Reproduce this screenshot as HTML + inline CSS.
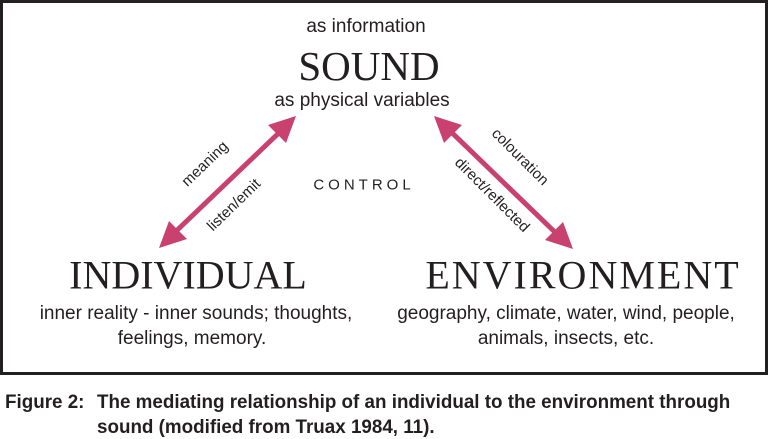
<!DOCTYPE html>
<html><head><style>
body{margin:0;width:768px;height:434px;background:#fff;overflow:hidden;position:relative;font-family:"Liberation Sans",sans-serif;color:#231f20}
.box{position:absolute;left:0;top:0;width:762px;height:369px;border:3px solid #231f20}
.t{position:absolute;white-space:nowrap;transform:translate(-50%,-50%)}
.s{font-family:"Liberation Serif",serif}
.cap{position:absolute;font-weight:bold;font-size:19px;transform:scaleX(0.99);transform-origin:left top;white-space:nowrap}
</style></head><body>
<div class="box"></div>
<div class="t" style="left:366px;top:27px;font-size:19px">as information</div>
<div class="t s" style="left:369px;top:66px;font-size:41px">SOUND</div>
<div class="t" style="left:362px;top:101px;font-size:19px">as physical variables</div>
<div class="t" style="left:364px;top:185px;font-size:15px;letter-spacing:4px">CONTROL</div>
<div class="t s" style="left:188px;top:275px;font-size:40px">INDIVIDUAL</div>
<div class="t s" style="left:583px;top:275px;font-size:40px;letter-spacing:2px">ENVIRONMENT</div>
<div class="t" style="left:196px;top:314px;font-size:19px">inner reality - inner sounds; thoughts,</div>
<div class="t" style="left:192px;top:339px;font-size:19px">feelings, memory.</div>
<div class="t" style="left:566px;top:314px;font-size:19px">geography, climate, water, wind, people,</div>
<div class="t" style="left:566px;top:339px;font-size:19px">animals, insects, etc.</div>
<div class="t" style="left:205px;top:164px;font-size:15px;transform:translate(-50%,-50%) rotate(-44deg)">meaning</div>
<div class="t" style="left:234px;top:205px;font-size:15px;transform:translate(-50%,-50%) rotate(-44deg)">listen/emit</div>
<div class="t" style="left:520px;top:157px;font-size:15px;transform:translate(-50%,-50%) rotate(45deg)">colouration</div>
<div class="t" style="left:492px;top:195px;font-size:15px;transform:translate(-50%,-50%) rotate(45deg)">direct/reflected</div>
<svg style="position:absolute;left:0;top:0" width="768" height="434">
<g stroke="#c8416f" stroke-width="5" fill="#c8416f">
<line x1="170" y1="237" x2="285" y2="127"/>
<line x1="446" y1="127" x2="561" y2="238"/>
</g>
<g fill="#c8416f">
<polygon points="296,116 268,125 286,143"/>
<polygon points="159,248 187,239 169,221"/>
<polygon points="434,116 462,125 444,143"/>
<polygon points="573,249 545,240 563,222"/>
</g>
</svg>
<div class="cap" style="left:5px;top:392px">Figure 2:</div>
<div class="cap" style="left:97px;top:392px">The mediating relationship of an individual to the environment through</div>
<div class="cap" style="left:97px;top:417px">sound (modified from Truax 1984, 11).</div>
</body></html>
